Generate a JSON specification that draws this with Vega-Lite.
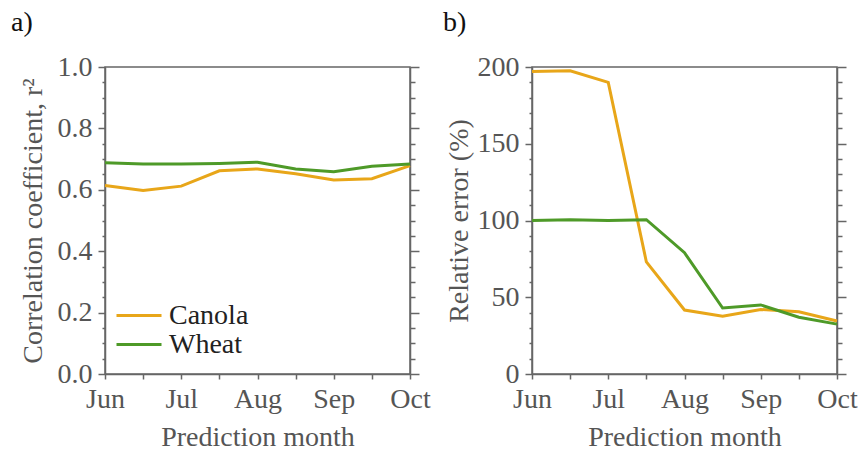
{
  "$schema": "https://vega.github.io/schema/vega-lite/v6.json",
  "background": "white",
  "padding": {"left": 10, "top": 8, "right": 0, "bottom": 0},
  "config": {
    "font": "Liberation Serif",
    "view": {"stroke": "#666", "strokeWidth": 1.5},
    "axis": {
      "grid": false,
      "labelFont": "Liberation Serif",
      "labelFontSize": 28,
      "labelColor": "#555",
      "titleFont": "Liberation Serif",
      "titleFontSize": 28,
      "titleFontWeight": "normal",
      "titleColor": "#555",
      "domainColor": "#666",
      "domainWidth": 1.5,
      "tickColor": "#666",
      "tickWidth": 1.5,
      "labelFlush": false,
      "labelOverlap": false
    },
    "title": {"font": "Liberation Serif", "fontSize": 28, "fontWeight": "normal", "color": "#111", "anchor": "start", "frame": "bounds"}
  },
  "data": {
    "values": [
      {"month": 6, "crop": "Canola", "r2": 0.614, "err": 197},
      {"month": 6.5, "crop": "Canola", "r2": 0.598, "err": 197.5},
      {"month": 7, "crop": "Canola", "r2": 0.612, "err": 190},
      {"month": 7.5, "crop": "Canola", "r2": 0.662, "err": 73},
      {"month": 8, "crop": "Canola", "r2": 0.668, "err": 41.7},
      {"month": 8.5, "crop": "Canola", "r2": 0.652, "err": 37.6},
      {"month": 9, "crop": "Canola", "r2": 0.632, "err": 42},
      {"month": 9.5, "crop": "Canola", "r2": 0.636, "err": 40.6},
      {"month": 10, "crop": "Canola", "r2": 0.679, "err": 34.5},
      {"month": 6, "crop": "Wheat", "r2": 0.688, "err": 100},
      {"month": 6.5, "crop": "Wheat", "r2": 0.684, "err": 100.5},
      {"month": 7, "crop": "Wheat", "r2": 0.684, "err": 100},
      {"month": 7.5, "crop": "Wheat", "r2": 0.686, "err": 100.5},
      {"month": 8, "crop": "Wheat", "r2": 0.690, "err": 79},
      {"month": 8.5, "crop": "Wheat", "r2": 0.668, "err": 43},
      {"month": 9, "crop": "Wheat", "r2": 0.659, "err": 45},
      {"month": 9.5, "crop": "Wheat", "r2": 0.677, "err": 37},
      {"month": 10, "crop": "Wheat", "r2": 0.684, "err": 32.5}
    ]
  },
  "spacing": 11,
  "resolve": {"legend": {"color": "independent"}},
  "hconcat": [
    {
      "title": {"text": "a)", "dx": -8, "offset": 16},
      "width": 305,
      "height": 307,
      "encoding": {
        "x": {
          "field": "month", "type": "quantitative",
          "scale": {"domain": [6, 10], "nice": false, "zero": false},
          "axis": {
            "title": "Prediction month",
            "values": [6, 6.5, 7, 7.5, 8, 8.5, 9, 9.5, 10],
            "labelExpr": "datum.value % 1 === 0 ? ['Jun','Jul','Aug','Sep','Oct'][datum.value - 6] : ''",
            "tickSize": 5,
            "labelPadding": 6,
            "titlePadding": 10,
            "labelFont": "Liberation Serif",
            "titleFont": "Liberation Serif"
          }
        }
      },
      "layer": [
        {
          "mark": {"type": "line", "strokeWidth": 3},
          "encoding": {
            "y": {
              "field": "r2", "type": "quantitative",
              "scale": {"domain": [0, 1], "nice": false},
              "axis": {
                "orient": "left",
                "title": "Correlation coefficient, r²",
                "values": [0, 0.05, 0.1, 0.15, 0.2, 0.25, 0.3, 0.35, 0.4, 0.45, 0.5, 0.55, 0.6, 0.65, 0.7, 0.75, 0.8, 0.85, 0.9, 0.95, 1],
                "labelExpr": "abs(datum.value * 5 - round(datum.value * 5)) < 0.001 ? format(datum.value, '.1f') : ''",
                "tickSize": {"condition": {"test": "abs(datum.value * 5 - round(datum.value * 5)) < 0.001", "value": 7}, "value": 3},
                "labelPadding": 6,
                "titlePadding": 10,
                "labelFont": "Liberation Serif",
                "titleFont": "Liberation Serif",
                "labelFontSize": 28,
                "titleFontSize": 28
              }
            },
            "color": {
              "field": "crop", "type": "nominal",
              "scale": {"domain": ["Canola", "Wheat"], "range": ["#E8A619", "#4E9A28"]},
              "legend": {
                "title": null,
                "orient": "none",
                "legendX": 10,
                "legendY": 235,
                "padding": 0,
                "symbolType": "stroke",
                "symbolSize": 2025,
                "symbolStrokeWidth": 3,
                "clipHeight": 27,
                "rowPadding": 0,
                "labelFont": "Liberation Serif",
                "labelFontSize": 28,
                "labelColor": "#222",
                "labelOffset": 6
              }
            }
          }
        },
        {
          "mark": {"type": "line", "strokeOpacity": 0},
          "encoding": {
            "y": {
              "field": "r2", "type": "quantitative",
              "scale": {"domain": [0, 1], "nice": false},
              "axis": {
                "orient": "right",
                "title": null,
                "labels": false,
                "values": [0, 0.05, 0.1, 0.15, 0.2, 0.25, 0.3, 0.35, 0.4, 0.45, 0.5, 0.55, 0.6, 0.65, 0.7, 0.75, 0.8, 0.85, 0.9, 0.95, 1],
                "tickSize": {"condition": {"test": "abs(datum.value * 5 - round(datum.value * 5)) < 0.001", "value": 9}, "value": 5}
              }
            }
          }
        }
      ],
      "resolve": {"axis": {"y": "independent"}}
    },
    {
      "title": {"text": "b)", "dx": -2, "offset": 16},
      "width": 305,
      "height": 307,
      "encoding": {
        "x": {
          "field": "month", "type": "quantitative",
          "scale": {"domain": [6, 10], "nice": false, "zero": false},
          "axis": {
            "title": "Prediction month",
            "values": [6, 6.5, 7, 7.5, 8, 8.5, 9, 9.5, 10],
            "labelExpr": "datum.value % 1 === 0 ? ['Jun','Jul','Aug','Sep','Oct'][datum.value - 6] : ''",
            "tickSize": 5,
            "labelPadding": 6,
            "titlePadding": 10,
            "labelFont": "Liberation Serif",
            "titleFont": "Liberation Serif"
          }
        }
      },
      "layer": [
        {
          "mark": {"type": "line", "strokeWidth": 3},
          "encoding": {
            "y": {
              "field": "err", "type": "quantitative",
              "scale": {"domain": [0, 200], "nice": false},
              "axis": {
                "orient": "left",
                "title": "Relative error (%)",
                "values": [0, 10, 20, 30, 40, 50, 60, 70, 80, 90, 100, 110, 120, 130, 140, 150, 160, 170, 180, 190, 200],
                "labelExpr": "datum.value % 50 === 0 ? format(datum.value, 'd') : ''",
                "tickSize": {"condition": {"test": "datum.value % 50 === 0", "value": 7}, "value": 3},
                "labelPadding": 6,
                "titlePadding": 4,
                "labelFont": "Liberation Serif",
                "titleFont": "Liberation Serif",
                "labelFontSize": 28,
                "titleFontSize": 28
              }
            },
            "color": {
              "field": "crop", "type": "nominal",
              "scale": {"domain": ["Canola", "Wheat"], "range": ["#E8A619", "#4E9A28"]},
              "legend": null
            }
          }
        },
        {
          "mark": {"type": "line", "strokeOpacity": 0},
          "encoding": {
            "y": {
              "field": "err", "type": "quantitative",
              "scale": {"domain": [0, 200], "nice": false},
              "axis": {
                "orient": "right",
                "title": null,
                "labels": false,
                "values": [0, 10, 20, 30, 40, 50, 60, 70, 80, 90, 100, 110, 120, 130, 140, 150, 160, 170, 180, 190, 200],
                "tickSize": {"condition": {"test": "datum.value % 50 === 0", "value": 9}, "value": 5}
              }
            }
          }
        }
      ],
      "resolve": {"axis": {"y": "independent"}}
    }
  ]
}
